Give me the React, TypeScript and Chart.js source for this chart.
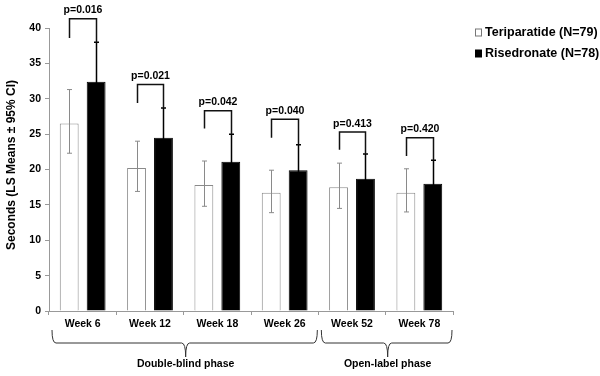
import React, { useEffect, useRef } from 'react';
import { Chart, registerables } from 'chart.js';

Chart.register(...registerables);

const categories = ['Week 6', 'Week 12', 'Week 18', 'Week 26', 'Week 52', 'Week 78'];
const seriesLabels = ['Teriparatide (N=79)', 'Risedronate (N=78)'];
const teriparatideMeans = [26.5, 20.2, 17.8, 16.7, 17.5, 16.7];
const teriparatideLower = [22.3, 16.9, 14.8, 13.9, 14.5, 14.0];
const teriparatideUpper = [31.3, 24.0, 21.2, 19.9, 20.9, 20.1];
const risedronateMeans = [32.4, 24.5, 21.1, 19.9, 18.7, 18.0];
const risedronateLower = [26.8, 20.3, 17.2, 16.3, 15.2, 14.7];
const risedronateUpper = [38.0, 28.7, 25.0, 23.5, 22.2, 21.3];
const pValueLabels = ['p=0.016', 'p=0.021', 'p=0.042', 'p=0.040', 'p=0.413', 'p=0.420'];
const bracketTops = [41.3, 32.0, 28.3, 27.1, 25.3, 24.5];
const bracketLeftEnds = [38.6, 29.4, 25.8, 24.5, 22.8, 21.9];
const phaseLabels = ['Double-blind phase', 'Open-label phase'];
const phaseStart = [0, 4];
const phaseEnd = [3, 5];
const yAxisTitle = 'Seconds (LS Means \u00b1 95% CI)';

const FONT = 'Arial, "Liberation Sans", Helvetica, sans-serif';

const annotations = {
  id: 'annotations',
  afterDatasetsDraw(chart: any) {
    const ctx = chart.ctx;
    const y = chart.scales.y;
    const sets = [
      { lower: teriparatideLower, upper: teriparatideUpper, color: '#8a8a8a', width: 1 },
      { lower: risedronateLower, upper: risedronateUpper, color: '#000', width: 1.5 },
    ];
    ctx.save();
    sets.forEach((s, di) => {
      const meta = chart.getDatasetMeta(di);
      meta.data.forEach((bar: any, i: number) => {
        const x = Math.round(bar.x) + 0.5;
        const yl = y.getPixelForValue(s.lower[i]);
        const yu = y.getPixelForValue(s.upper[i]);
        ctx.strokeStyle = s.color;
        ctx.lineWidth = s.width;
        ctx.beginPath();
        ctx.moveTo(x, yl);
        ctx.lineTo(x, yu);
        ctx.moveTo(x - 2.5, yu);
        ctx.lineTo(x + 2.5, yu);
        ctx.moveTo(x - 2.5, yl);
        ctx.lineTo(x + 2.5, yl);
        ctx.stroke();
      });
    });
    ctx.restore();
  },
  afterDraw(chart: any) {
    const ctx = chart.ctx;
    const y = chart.scales.y;
    const xs = chart.scales.x;
    const m0 = chart.getDatasetMeta(0);
    const m1 = chart.getDatasetMeta(1);
    ctx.save();
    // p-value brackets
    categories.forEach((_, i) => {
      const xl = Math.round(m0.data[i].x) + 0.5;
      const xr = Math.round(m1.data[i].x) + 0.5;
      const yt = y.getPixelForValue(bracketTops[i]);
      const ylb = y.getPixelForValue(bracketLeftEnds[i]);
      const yrb = y.getPixelForValue(risedronateUpper[i]);
      ctx.strokeStyle = '#111';
      ctx.lineWidth = 1.5;
      ctx.beginPath();
      ctx.moveTo(xl, ylb);
      ctx.lineTo(xl, yt);
      ctx.lineTo(xr, yt);
      ctx.lineTo(xr, yrb);
      ctx.stroke();
      ctx.fillStyle = '#000';
      ctx.font = `bold 10.5px ${FONT}`;
      ctx.textAlign = 'center';
      ctx.textBaseline = 'bottom';
      ctx.fillText(pValueLabels[i], (xl + xr) / 2, yt - 3);
    });
    // phase braces
    const half = (xs.getPixelForValue(1) - xs.getPixelForValue(0)) / 2;
    phaseLabels.forEach((label, k) => {
      const x1 = xs.getPixelForValue(phaseStart[k]) - half + 3;
      const x2 = xs.getPixelForValue(phaseEnd[k]) + half - 1;
      const mid = (x1 + x2) / 2 + 1;
      const y0 = 330, y1 = 343, y2 = 357, r = 4;
      ctx.strokeStyle = '#333';
      ctx.lineWidth = 1;
      ctx.beginPath();
      ctx.moveTo(x1, y0);
      ctx.quadraticCurveTo(x1, y1, x1 + r, y1);
      ctx.lineTo(mid - r, y1);
      ctx.quadraticCurveTo(mid, y1, mid, y2);
      ctx.quadraticCurveTo(mid, y1, mid + r, y1);
      ctx.lineTo(x2 - r, y1);
      ctx.quadraticCurveTo(x2, y1, x2, y0);
      ctx.stroke();
      ctx.fillStyle = '#000';
      ctx.font = `bold 10.5px ${FONT}`;
      ctx.textAlign = 'center';
      ctx.textBaseline = 'middle';
      ctx.fillText(label, mid, 364);
    });
    // y axis title
    ctx.save();
    ctx.translate(12, 165);
    ctx.rotate(-Math.PI / 2);
    ctx.font = `bold 12px ${FONT}`;
    ctx.fillStyle = '#000';
    ctx.textAlign = 'center';
    ctx.textBaseline = 'middle';
    ctx.fillText(yAxisTitle, 0, 0);
    ctx.restore();
    // legend
    const fills = ['#fff', '#000'];
    const strokes = ['#777', '#000'];
    seriesLabels.forEach((label, k) => {
      const cy = 32.5 + k * 21;
      ctx.fillStyle = fills[k];
      ctx.fillRect(475.5, cy - 3.5, 6, 7);
      ctx.strokeStyle = strokes[k];
      ctx.lineWidth = 1;
      ctx.strokeRect(475.5, cy - 3.5, 6, 7);
      ctx.fillStyle = '#000';
      ctx.font = `bold 12.5px ${FONT}`;
      ctx.textAlign = 'left';
      ctx.textBaseline = 'middle';
      ctx.fillText(label, 485, cy + 0.5);
    });
    ctx.restore();
  },
};

export default function App() {
  const ref = useRef<HTMLCanvasElement | null>(null);
  useEffect(() => {
    if (!ref.current) return;
    const chart = new Chart(ref.current, {
      type: 'bar',
      data: {
        labels: categories,
        datasets: [
          {
            label: seriesLabels[0],
            data: teriparatideMeans,
            backgroundColor: '#ffffff',
            borderColor: '#8a8a8a',
            borderWidth: 1,
            categoryPercentage: 0.8,
            barPercentage: 0.7,
          },
          {
            label: seriesLabels[1],
            data: risedronateMeans,
            backgroundColor: '#000000',
            borderColor: '#000000',
            borderWidth: 1,
            categoryPercentage: 0.8,
            barPercentage: 0.7,
          },
        ],
      },
      options: {
        responsive: false,
        animation: false,
        layout: { padding: { top: 28, right: 147, bottom: 0, left: 0 } },
        plugins: { legend: { display: false }, tooltip: { enabled: false } },
        scales: {
          x: {
            afterFit: (s: any) => { s.height = 65; },
            grid: { display: true, drawOnChartArea: false, offset: true, tickLength: 4, color: '#999' },
            border: { color: '#999' },
            ticks: { color: '#000', font: { family: FONT, size: 10.5, weight: 'bold' }, padding: 3 },
          },
          y: {
            min: 0,
            max: 40,
            afterFit: (s: any) => { s.width = 49; },
            grid: { display: true, drawOnChartArea: false, tickLength: 4, color: '#999' },
            border: { color: '#999' },
            ticks: { stepSize: 5, color: '#000', font: { family: FONT, size: 10.5, weight: 'bold' }, padding: 4 },
          },
        },
      },
      plugins: [annotations],
    });
    return () => chart.destroy();
  }, []);
  return (
    <div style={{ position: 'absolute', left: 0, top: 0, width: 600, height: 376, background: '#fff' }}>
      <canvas ref={ref} width={600} height={376} style={{ display: 'block' }} />
    </div>
  );
}
